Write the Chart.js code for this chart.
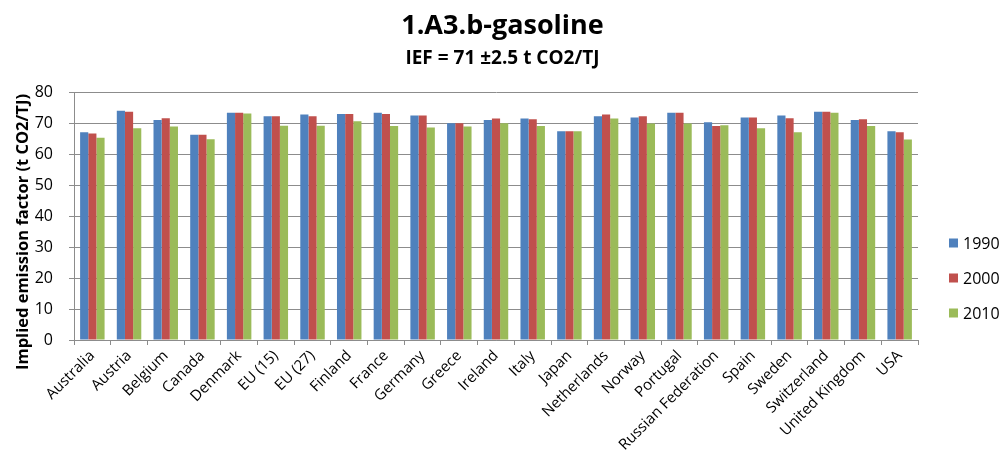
<!DOCTYPE html>
<html>
<head>
<meta charset="utf-8">
<script src="https://cdn.jsdelivr.net/npm/chart.js@4/dist/chart.umd.min.js"></script>
<style>
  html, body { margin: 0; padding: 0; background: #ffffff; }
  #wrap { width: 1005px; height: 469px; position: relative; }
</style>
</head>
<body>
<div id="wrap"><canvas id="c" width="1005" height="469"></canvas></div>
<script>
const categories = ["Australia","Austria","Belgium","Canada","Denmark","EU (15)","EU (27)","Finland","France","Germany","Greece","Ireland","Italy","Japan","Netherlands","Norway","Portugal","Russian Federation","Spain","Sweden","Switzerland","United Kingdom","USA"];
const seriesNames = ["1990","2000","2010"];
const values1990 = [67.1,74.0,71.0,66.3,73.4,72.2,72.8,73.0,73.4,72.5,70.0,71.0,71.5,67.4,72.2,71.8,73.4,70.3,71.8,72.5,73.7,71.0,67.4];
const values2000 = [66.7,73.7,71.6,66.3,73.4,72.2,72.2,73.0,73.0,72.5,70.0,71.5,71.3,67.4,72.8,72.2,73.4,69.1,71.8,71.6,73.7,71.3,67.1];
const values2010 = [65.3,68.4,68.9,64.8,73.1,69.2,69.2,70.6,69.1,68.6,68.9,70.0,69.1,67.4,71.5,69.9,69.9,69.3,68.4,67.1,73.4,69.1,64.7];
const yTicks = [0,10,20,30,40,50,60,70,80];
const colors = ["#4F81BD","#C0504D","#9BBB59"];
const titleText = "1.A3.b-gasoline";
const subtitleText = "IEF = 71 \u00B12.5 t CO2/TJ";
const yTitleText = "Implied emission factor (t CO2/TJ)";

const FONT = "'Open Sans', Lato, 'DejaVu Sans', sans-serif";

const extras = {
  id: 'extras',
  afterDraw(chart) {
    const ctx = chart.ctx;
    ctx.save();
    ctx.fillStyle = '#000';
    ctx.font = "bold 16.5px " + FONT;
    ctx.textAlign = 'center';
    ctx.textBaseline = 'middle';
    ctx.translate(23, 232);
    ctx.rotate(-Math.PI / 2);
    ctx.fillText(yTitleText, 0, 0);
    ctx.restore();
    ctx.save();
    ctx.font = "16px " + FONT;
    ctx.textBaseline = 'middle';
    ctx.textAlign = 'left';
    const ys = [243, 278, 313];
    chart.data.datasets.forEach((ds, i) => {
      ctx.fillStyle = ds.backgroundColor;
      ctx.fillRect(949, ys[i] - 4.5, 9, 9);
      ctx.fillStyle = '#000';
      ctx.fillText(ds.label, 963, ys[i] + 1);
    });
    ctx.restore();
  }
};

new Chart(document.getElementById('c'), {
  type: 'bar',
  data: {
    labels: categories,
    datasets: [
      { label: seriesNames[0], data: values1990, backgroundColor: colors[0], yAxisID: 'y' },
      { label: seriesNames[1], data: values2000, backgroundColor: colors[1], yAxisID: 'y' },
      { label: seriesNames[2], data: values2010, backgroundColor: colors[2], yAxisID: 'y' }
    ]
  },
  options: {
    responsive: false,
    animation: false,
    devicePixelRatio: 1,
    layout: { padding: { left: 0, right: 0, top: 0, bottom: 0 } },
    datasets: { bar: { categoryPercentage: 0.667, barPercentage: 1.0, borderWidth: 0 } },
    plugins: {
      legend: { display: false },
      tooltip: { enabled: false },
      title: {
        display: true, text: titleText, color: '#000',
        font: { family: FONT, size: 27, weight: 'bold', lineHeight: 1.2 },
        padding: { top: 10, bottom: 5 }
      },
      subtitle: {
        display: true, text: subtitleText, color: '#000',
        font: { family: FONT, size: 19, weight: 'bold', lineHeight: 1.2 },
        padding: { top: 0, bottom: 22 }
      }
    },
    scales: {
      x: {
        grid: { display: true, drawOnChartArea: false, drawTicks: true, tickLength: 5, color: '#8c8c8c', offset: true },
        border: { display: true, color: '#8c8c8c', width: 1 },
        ticks: { color: '#000', font: { family: FONT, size: 15 }, minRotation: 45, maxRotation: 45, autoSkip: false, padding: 2 },
        afterFit(scale) { scale.height = 129; }
      },
      y: {
        min: 0, max: 80,
        afterBuildTicks(scale) { scale.ticks = yTicks.map(v => ({ value: v })); },
        grid: { color: '#8c8c8c', lineWidth: 1, drawTicks: true, tickLength: 5 },
        border: { display: true, color: '#8c8c8c', width: 1 },
        ticks: { color: '#000', font: { family: FONT, size: 16 }, padding: 16 },
        afterFit(scale) { scale.width = 74; }
      },
      yr: {
        position: 'right',
        display: true,
        grid: { display: false, drawTicks: false },
        border: { display: false },
        ticks: { display: false },
        afterFit(scale) { scale.width = 87; }
      }
    }
  },
  plugins: [extras]
});
</script>
</body>
</html>
